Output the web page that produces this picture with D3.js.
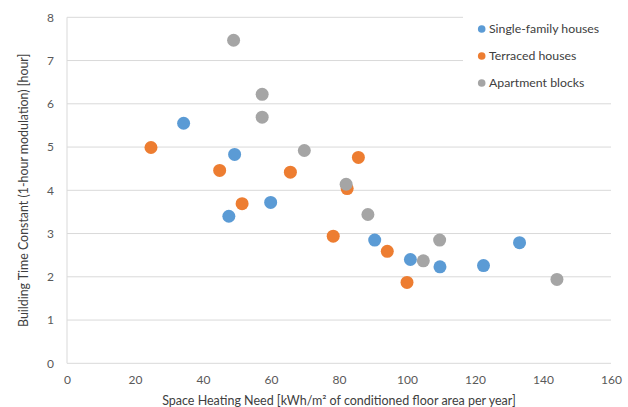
<!DOCTYPE html>
<html><head><meta charset="utf-8">
<script src="https://cdn.jsdelivr.net/npm/d3@7"></script>
<style>body{margin:0;background:#fff;}svg{display:block;font-family:Lato,"Open Sans",sans-serif;}</style>
</head><body>
<svg id="c" width="628" height="407"></svg>
<script>
const seriesNames = ["Single-family houses", "Terraced houses", "Apartment blocks"];
const singleFamily = [[34.3,5.55],[49.3,4.83],[47.6,3.40],[59.9,3.72],[90.5,2.85],[101,2.40],[109.7,2.23],[122.5,2.26],[133.1,2.79]];
const terraced = [[24.7,4.99],[44.9,4.46],[51.5,3.69],[65.7,4.42],[85.7,4.76],[82.4,4.04],[78.3,2.94],[94.2,2.59],[100,1.87]];
const apartment = [[49.0,7.47],[57.4,6.22],[57.4,5.69],[69.8,4.92],[82.1,4.14],[88.5,3.44],[109.6,2.85],[104.8,2.37],[144.1,1.94]];
const xTicks = [0,20,40,60,80,100,120,140,160];
const yTicks = [0,1,2,3,4,5,6,7,8];
const colors = ["#5B9BD5","#ED7D31","#A5A5A5"];
const xTitle = "Space Heating Need [kWh/m² of conditioned floor area per year]";
const yTitle = "Building Time Constant (1-hour modulation) [hour]";

const svg = d3.select("#c");
const x = d3.scaleLinear().domain([0,160]).range([67,611]);
const y = d3.scaleLinear().domain([0,8]).range([363.3,17.3]);

// gridlines
svg.append("g").selectAll("line").data(yTicks).join("line")
  .attr("x1",x(0)).attr("x2",x(160)).attr("y1",d=>y(d)).attr("y2",d=>y(d))
  .attr("stroke","#D9D9D9").attr("stroke-width",1);
svg.append("line").attr("x1",x(0)).attr("x2",x(0)).attr("y1",y(8)).attr("y2",y(0))
  .attr("stroke","#D9D9D9").attr("stroke-width",1);

// axes (labels only)
const xAxis = svg.append("g").attr("transform",`translate(0,${y(0)})`)
  .call(d3.axisBottom(x).tickValues(xTicks).tickSize(0).tickPadding(12));
xAxis.select(".domain").remove();
xAxis.selectAll("text").attr("fill","#595959").style("font-size","12px").style("font-family","Lato");
const yAxis = svg.append("g").attr("transform",`translate(${x(0)},0)`)
  .call(d3.axisLeft(y).tickValues(yTicks).tickSize(0).tickPadding(13));
yAxis.select(".domain").remove();
yAxis.selectAll("text").attr("fill","#595959").style("font-size","12px").style("font-family","Lato");

// points
const all = [singleFamily, terraced, apartment];
all.forEach((s,i)=>{
  svg.append("g").selectAll("circle").data(s).join("circle")
    .attr("cx",d=>x(d[0])).attr("cy",d=>y(d[1])).attr("r",6.5)
    .attr("fill",colors[i]);
});

// legend
const lg = svg.append("g");
lg.append("rect").attr("x",463).attr("y",8).attr("width",165).attr("height",88).attr("fill","#fff");
seriesNames.forEach((n,i)=>{
  const yy = 29 + i*27;
  lg.append("circle").attr("cx",481.7).attr("cy",yy).attr("r",3.8).attr("fill",colors[i]);
  lg.append("text").attr("x",489).attr("y",yy).attr("dy","0.35em")
    .attr("fill","#404040").style("font-size","12.3px").text(n);
});

// titles
svg.append("text").attr("x",(x(0)+x(160))/2).attr("y",405).attr("text-anchor","middle")
  .attr("fill","#404040").style("font-size","12.5px").text(xTitle);
svg.append("text").attr("transform",`translate(28,${(y(0)+y(8))/2}) rotate(-90)`).attr("text-anchor","middle")
  .attr("fill","#404040").style("font-size","12.4px").text(yTitle);
</script>
</body></html>
